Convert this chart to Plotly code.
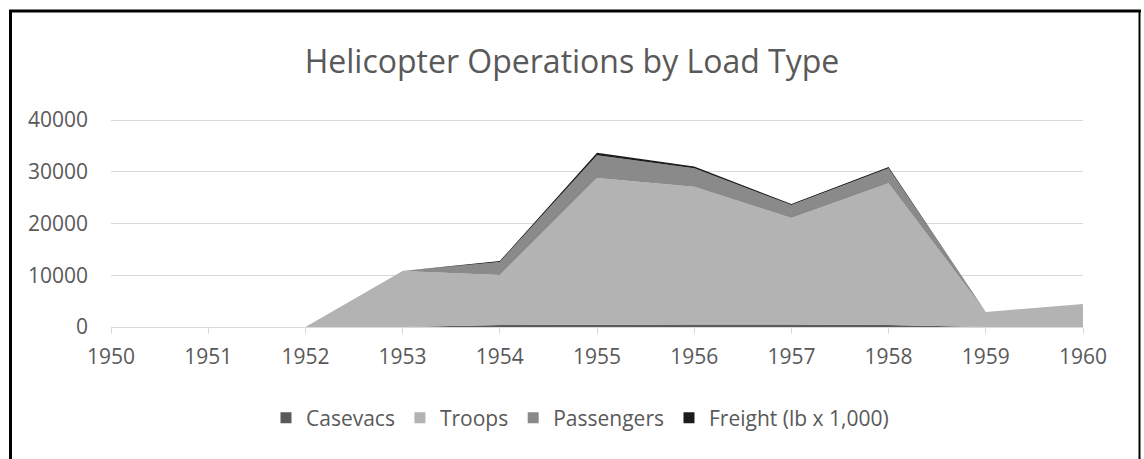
import plotly.graph_objects as go

years = [1950, 1951, 1952, 1953, 1954, 1955, 1956, 1957, 1958, 1959, 1960]
casevacs = [0, 0, 0, 0, 400, 500, 500, 500, 400, 0, 0]
troops = [0, 0, 0, 10800, 9650, 28300, 26600, 20560, 27400, 2900, 4450]
passengers = [0, 0, 0, 0, 2500, 4400, 3600, 2500, 2900, 0, 0]
freight = [0, 0, 0, 0, 200, 500, 300, 200, 200, 0, 0]
y_ticks = [0, 10000, 20000, 30000, 40000]

series = [
    ("Casevacs", casevacs, "#5a5a5a"),
    ("Troops", troops, "#b3b3b3"),
    ("Passengers", passengers, "#8a8a8a"),
    ("Freight (lb x 1,000)", freight, "#1c1c1c"),
]

fig = go.Figure()
for name, vals, col in series:
    fig.add_trace(go.Scatter(
        x=years, y=vals, name=name, mode="lines",
        stackgroup="one", line=dict(width=0, color=col),
        fillcolor=col, showlegend=False,
    ))
# legend entries with square swatches
for name, vals, col in series:
    fig.add_trace(go.Scatter(
        x=[None], y=[None], name=name, mode="markers",
        marker=dict(symbol="square", size=11, color=col), showlegend=True,
    ))

W, H = 1144, 459
YMAX = 40200
L, R, B = 111, 61, 132
ph = (327 - 120) * YMAX / 40000
T = H - B - ph
pw = W - L - R

def px(x):
    return (x - L) / pw

def py(y):
    return (H - B - y) / ph

font = "Open Sans"
fig.update_layout(
    width=W, height=H,
    margin=dict(l=L, r=R, t=T, b=B),
    paper_bgcolor="white", plot_bgcolor="white",
    font=dict(family=font, color="#595959", size=21),
    title=dict(text="Helicopter Operations by Load Type", x=0.5, xanchor="center",
               y=1 - 62 / H, yanchor="middle",
               font=dict(size=32, color="#595959", family=font)),
    showlegend=True,
    legend=dict(orientation="h", x=px(580), xanchor="center", y=py(418), yanchor="middle",
                font=dict(size=21, color="#595959"), itemwidth=30, traceorder="normal"),
    xaxis=dict(range=[1950, 1960], tickmode="array", tickvals=years,
               ticktext=[str(y) for y in years], showgrid=False,
               showline=True, linecolor="#d9d9d9", linewidth=1,
               ticks="outside", ticklen=6, tickcolor="#d9d9d9",
               ticklabelstandoff=5, zeroline=False, fixedrange=True,
               tickfont=dict(size=21)),
    yaxis=dict(range=[0, YMAX], tickmode="array", tickvals=y_ticks,
               ticktext=[str(v) for v in y_ticks],
               showgrid=True, gridcolor="#d9d9d9", gridwidth=1,
               zeroline=False, showline=False, ticks="",
               ticklabelstandoff=22, fixedrange=True, tickfont=dict(size=21)),
    shapes=[
        dict(type="line", xref="paper", yref="paper", x0=px(10.5), x1=px(10.5), y0=py(10), y1=py(470),
             line=dict(color="black", width=3)),
        dict(type="line", xref="paper", yref="paper", x0=px(9), x1=px(1141), y0=py(11), y1=py(11),
             line=dict(color="black", width=3)),
        dict(type="line", xref="paper", yref="paper", x0=px(1139.5), x1=px(1139.5), y0=py(10), y1=py(470),
             line=dict(color="black", width=2)),
    ],
)

fig.write_html("out.html")
